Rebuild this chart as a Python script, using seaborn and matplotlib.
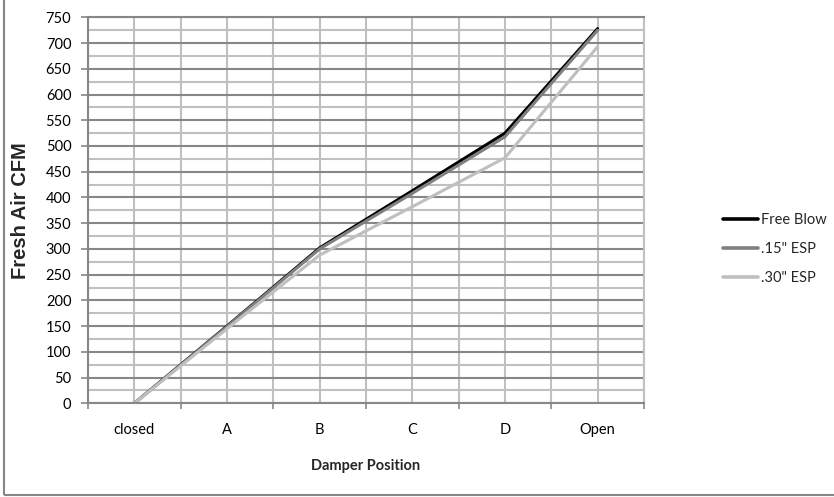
import matplotlib
matplotlib.use('Agg')
import matplotlib.pyplot as plt
import seaborn as sns
import pandas as pd
from matplotlib.ticker import MultipleLocator, FixedLocator, FixedFormatter, NullFormatter
from matplotlib.patches import Rectangle

# 数据
positions = ['closed', 'A', 'B', 'C', 'D', 'Open']
free_blow = [0, 150, 302, 413, 525, 728]
esp_15 = [0, 149, 300, 408, 518, 725]
esp_30 = [0, 145, 288, 382, 477, 693]
series_names = ['Free Blow', '.15" ESP', '.30" ESP']
series_colors = ['#000000', '#808080', '#BFBFBF']

rows = []
for name, vals in zip(series_names, [free_blow, esp_15, esp_30]):
    for p, v in zip(positions, vals):
        rows.append({'Damper Position': p, 'CFM': v, 'series': name})
df = pd.DataFrame(rows)

sns.set_theme(style='white')
plt.rcParams['font.family'] = ['Lato', 'DejaVu Sans']

dark = '#878787'
light = '#C0C0C0'

fig = plt.figure(figsize=(8.34, 4.97), dpi=100)
ax = fig.add_axes([88 / 834, (497 - 403.3) / 497, 556 / 834, 386 / 497])

sns.lineplot(data=df, x='Damper Position', y='CFM', hue='series',
             hue_order=series_names, palette=dict(zip(series_names, series_colors)),
             sort=False, linewidth=2.2, ax=ax)

# 坐标轴范围
ax.set_xlim(-0.5, 5.5)
ax.set_ylim(0, 750)

# x轴: 分类边界为主刻度, 分类中心显示标签
ax.xaxis.set_major_locator(FixedLocator([i - 0.5 for i in range(len(positions) + 1)]))
ax.xaxis.set_major_formatter(NullFormatter())
ax.xaxis.set_minor_locator(FixedLocator(list(range(len(positions)))))
ax.xaxis.set_minor_formatter(FixedFormatter(positions))

ax.yaxis.set_major_locator(MultipleLocator(50))
ax.yaxis.set_minor_locator(MultipleLocator(25))

ax.set_axisbelow(True)
ax.grid(axis='x', which='both', color=light, linewidth=1.5)
ax.grid(axis='y', which='major', color=dark, linewidth=1.5)
ax.grid(axis='y', which='minor', color=light, linewidth=1.5)

ax.tick_params(axis='y', which='major', direction='out', left=True, length=5,
               width=1.2, color=dark, pad=7, labelsize=10.5, labelcolor='black')
ax.tick_params(axis='y', which='minor', left=False, length=0)
ax.tick_params(axis='x', which='major', direction='out', bottom=True, length=4.5,
               width=1.2, color=dark, labelbottom=False)
ax.tick_params(axis='x', which='minor', bottom=True, length=0, pad=14,
               labelsize=10.5, labelcolor='black')

for side in ['left', 'bottom', 'top']:
    ax.spines[side].set_color(dark)
    ax.spines[side].set_linewidth(1.5)
ax.spines['right'].set_color(light)
ax.spines['right'].set_linewidth(1.5)

# 轴标题
ax.set_ylabel('Fresh Air CFM', fontsize=14.5, fontweight='bold',
              family=['Liberation Sans', 'DejaVu Sans'], va='center')
ax.yaxis.set_label_coords((20.8 - 88) / 556, 0.5)
ax.set_xlabel('Damper Position', fontsize=10.5, fontweight='bold', va='center')
ax.xaxis.set_label_coords(0.5, (403.3 - 466) / 386)

# 图例
handles, labels = ax.get_legend_handles_labels()
leg = ax.legend(handles, labels, loc='center left',
                bbox_to_anchor=(723 / 834, (497 - 249) / 497),
                bbox_transform=fig.transFigure, frameon=False,
                handlelength=2.4, handletextpad=0.2, labelspacing=1.05,
                borderpad=0, borderaxespad=0, fontsize=10.5)
for line in leg.get_lines():
    line.set_linewidth(2.6)

# 外框
fig.add_artist(Rectangle((4 / 834, 2 / 497), 2, 2, transform=fig.transFigure,
                         fill=False, edgecolor=dark, linewidth=1.5))

fig.savefig('out.png', dpi=100)
